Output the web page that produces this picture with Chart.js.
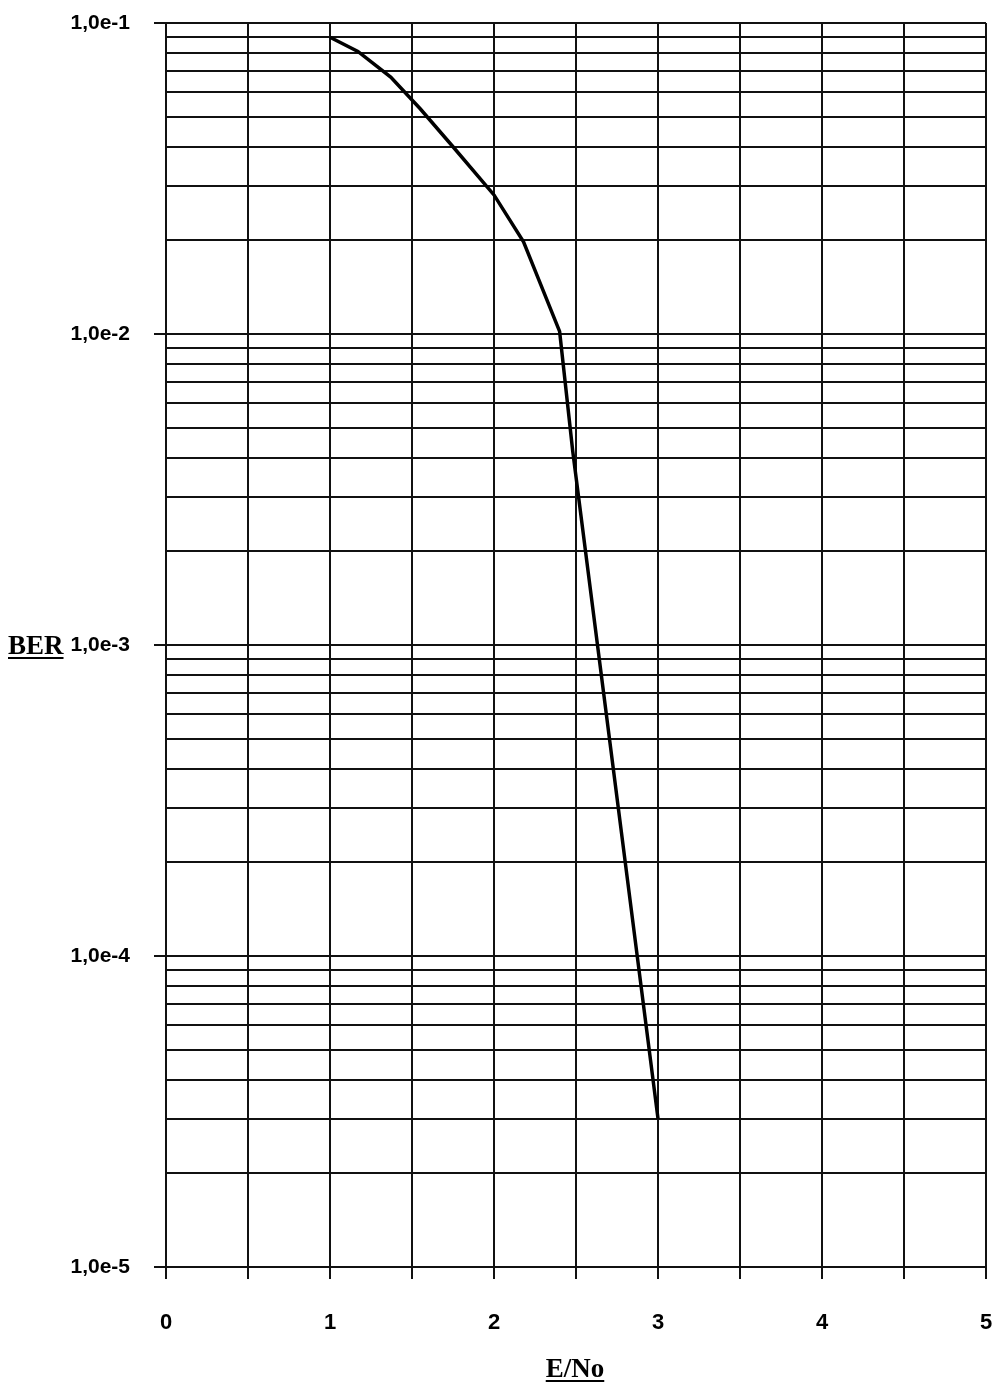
<!DOCTYPE html>
<html>
<head>
<meta charset="utf-8">
<script src="https://cdn.jsdelivr.net/npm/chart.js@4/dist/chart.umd.min.js"></script>
<style>
  body { margin: 0; background: #fff; }
  canvas { display: block; }
</style>
</head>
<body>
<canvas id="berChart" width="997" height="1386"></canvas>
<script>
// E/No values and the BER
const ebno = [1.0, 1.17, 1.37, 1.55, 1.75, 2.0, 2.18, 2.4, 2.48, 3.0];
const ber = [0.09, 0.081, 0.067, 0.053, 0.04, 0.028, 0.0198, 0.0102, 0.0042, 0.00003];

// axis ticks
const xTicks = [0, 1, 2, 3, 4, 5];
const yDecades = [1e-5, 1e-4, 1e-3, 1e-2, 1e-1];
const yTickLabels = ['1,0e-5', '1,0e-4', '1,0e-3', '1,0e-2', '1,0e-1'];
const yMultipliers = [1, 2, 3, 4, 5, 6, 7, 8, 9];

const xTitle = 'E/No';
const yTitle = 'BER';

function decadeIndex(v) {
    return yDecades.findIndex(d => Math.abs(v / d - 1) < 1e-6);
}

// titles are bold serif and underlined
const titlePlugin = {
    id: 'titles',
    afterDraw(chart) {
        const ctx = chart.ctx;
        ctx.save();
        ctx.fillStyle = '#000';
        ctx.strokeStyle = '#000';
        ctx.font = 'bold 27px "Liberation Serif"';
        ctx.textBaseline = 'alphabetic';

        const y3 = chart.scales.y.getPixelForValue(1e-3);
        let w = ctx.measureText(yTitle).width;
        ctx.fillText(yTitle, 8, y3 + 9);
        ctx.lineWidth = 2;
        ctx.beginPath();
        ctx.moveTo(8, y3 + 13);
        ctx.lineTo(8 + w, y3 + 13);
        ctx.stroke();

        w = ctx.measureText(xTitle).width;
        const cx = 575;
        ctx.fillText(xTitle, cx - w / 2, 1377);
        ctx.beginPath();
        ctx.moveTo(cx - w / 2, 1381);
        ctx.lineTo(cx + w / 2, 1381);
        ctx.stroke();
        ctx.restore();
    }
};

const ctx = document.getElementById('berChart').getContext('2d');
new Chart(ctx, {
    type: 'line',
    data: {
        datasets: [{
            data: ebno.map((x, i) => ({ x: x, y: ber[i] })),
            borderColor: '#000',
            borderWidth: 3.5,
            pointRadius: 0,
            tension: 0,
            fill: false
        }]
    },
    options: {
        responsive: false,
        animation: false,
        events: [],
        layout: { padding: { top: 23, right: 11, left: 0, bottom: 0 } },
        plugins: { legend: { display: false }, tooltip: { enabled: false } },
        scales: {
            x: {
                type: 'linear',
                min: 0,
                max: 5,
                afterFit(scale) {
                    scale.height = 119;
                    scale.paddingLeft = 0;
                    scale.paddingRight = 0;
                },
                ticks: {
                    stepSize: 0.5,
                    autoSkip: false,
                    maxRotation: 0,
                    padding: 31,
                    color: '#000',
                    font: { family: '"Liberation Sans"', size: 22, weight: 'bold' },
                    callback: v => xTicks.includes(v) ? String(v) : ''
                },
                grid: {
                    color: '#111',
                    lineWidth: 2,
                    tickLength: 12,
                    tickColor: '#111',
                    tickWidth: 2
                },
                border: { color: '#111', width: 2 }
            },
            y: {
                type: 'logarithmic',
                min: 1e-5,
                max: 1e-1,
                afterFit(scale) {
                    scale.width = 166;
                    scale.paddingTop = 0;
                    scale.paddingBottom = 0;
                },
                afterBuildTicks(scale) {
                    const vals = [];
                    yDecades.forEach((d, i) => {
                        if (i === yDecades.length - 1) { vals.push(d); return; }
                        yMultipliers.forEach(m => vals.push(m * d));
                    });
                    scale.ticks = vals.map(v => ({ value: v, major: decadeIndex(v) >= 0 }));
                },
                ticks: {
                    autoSkip: false,
                    padding: 24,
                    color: '#000',
                    font: { family: '"Liberation Sans"', size: 21, weight: 'bold' },
                    callback: v => {
                        const i = decadeIndex(v);
                        return i >= 0 ? yTickLabels[i] : '';
                    }
                },
                grid: {
                    color: '#111',
                    lineWidth: 2,
                    tickLength: 12,
                    tickColor: c => (c.tick && decadeIndex(c.tick.value) >= 0) ? '#111' : 'rgba(0,0,0,0)',
                    tickWidth: 2
                },
                border: { color: '#111', width: 2 }
            }
        }
    },
    plugins: [titlePlugin]
});
</script>
</body>
</html>
